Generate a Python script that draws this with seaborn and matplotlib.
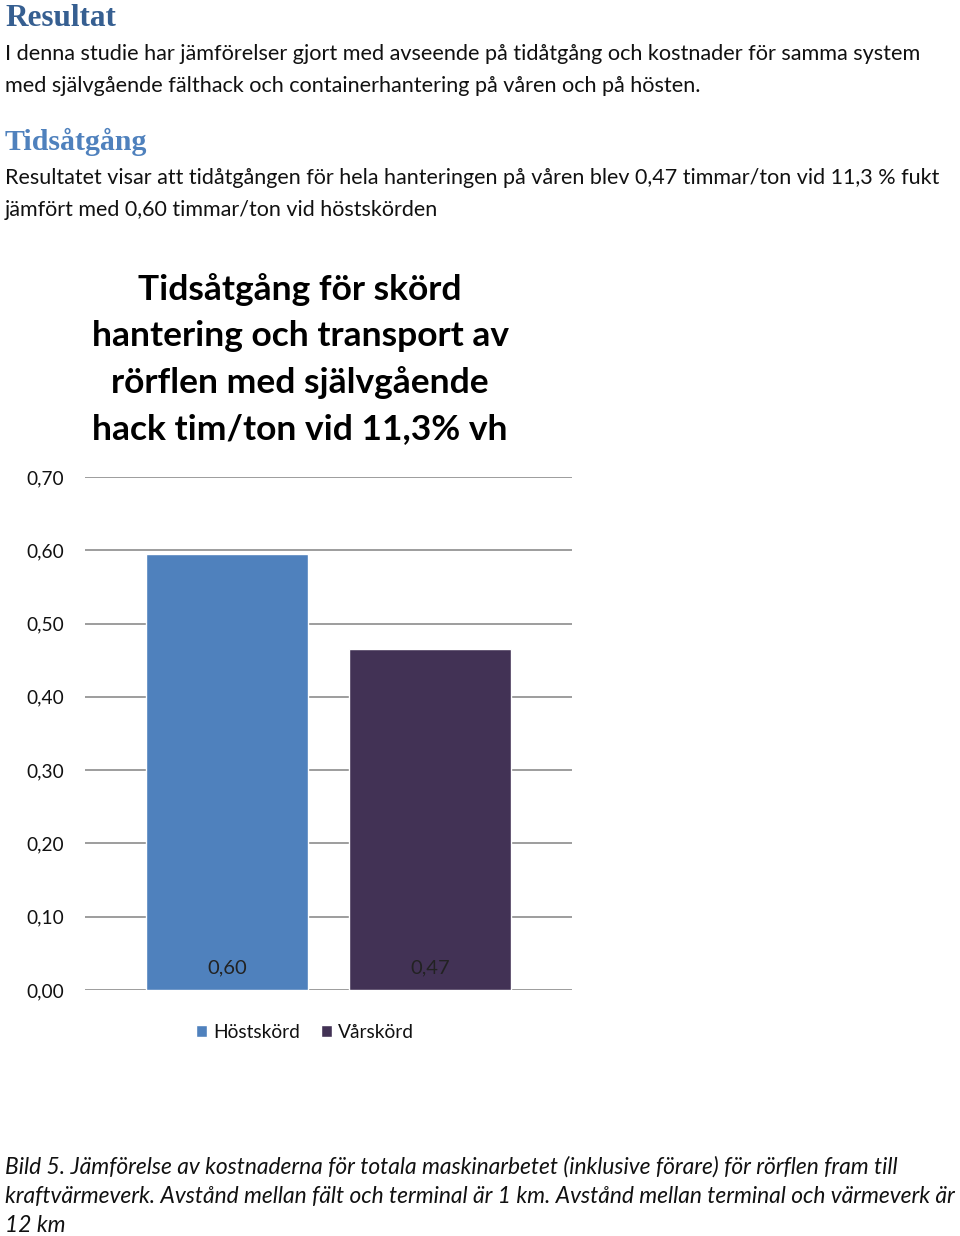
import matplotlib
matplotlib.use('Agg')
import matplotlib.pyplot as plt
import seaborn as sns

# chart data
categories = ['Höstskörd', 'Vårskörd']
values = [0.595, 0.465]
value_labels = ['0,60', '0,47']
bar_colors = ['#4F81BD', '#423255']
y_ticks = [0.0, 0.1, 0.2, 0.3, 0.4, 0.5, 0.6, 0.7]
y_tick_labels = ['0,00', '0,10', '0,20', '0,30', '0,40', '0,50', '0,60', '0,70']

chart_title = ['Tidsåtgång för skörd',
               'hantering och transport av',
               'rörflen med självgående',
               'hack tim/ton vid 11,3% vh']

# page text
heading1 = 'Resultat'
para1 = ['I denna studie har jämförelser gjort med avseende på tidåtgång och kostnader för samma system',
         'med självgående fälthack och containerhantering på våren och på hösten.']
heading2 = 'Tidsåtgång'
para2 = ['Resultatet visar att tidåtgången för hela hanteringen på våren blev 0,47 timmar/ton vid 11,3 % fukt',
         'jämfört med 0,60 timmar/ton vid höstskörden']
caption = ['Bild 5. Jämförelse av kostnaderna för totala maskinarbetet (inklusive förare) för rörflen fram till',
           'kraftvärmeverk. Avstånd mellan fält och terminal är 1 km. Avstånd mellan terminal och värmeverk är',
           '12 km']

sns.set_theme(style='white')
plt.rcParams['font.family'] = ['Lato', 'DejaVu Sans']

W, H = 960, 1236
fig = plt.figure(figsize=(W / 100, H / 100), dpi=100)
fig.patch.set_facecolor('white')


def fy(px):
    return 1 - px / H


# headings and paragraphs
fig.text(5 / W, fy(18), heading1, family='Liberation Serif', fontweight='bold',
         fontsize=22.5, color='#365F91', va='center', ha='left')
for i, line in enumerate(para1):
    fig.text(5 / W, fy(54 + 32.5 * i), line, fontsize=15.55, color='#111111', va='center', ha='left')
fig.text(5 / W, fy(142), heading2, family='Liberation Serif', fontweight='bold',
         fontsize=21.5, color='#4F81BD', va='center', ha='left')
for i, line in enumerate(para2):
    fig.text(5 / W, fy(178 + 32.5 * i), line, fontsize=15.5, color='#111111', va='center', ha='left')
for i, line in enumerate(caption):
    fig.text(5 / W, fy(1167 + 29 * i), line, fontsize=16.4, style='italic', color='#111111',
             va='center', ha='left')

# chart title
for i, line in enumerate(chart_title):
    fig.text(300 / W, fy(290 + 46.3 * i), line, fontsize=25.5, fontweight='bold', color='black',
             va='center', ha='center')

# axes
ax = fig.add_axes([85 / W, 1 - 990 / H, (572 - 85) / W, (990 - 477) / H])
sns.barplot(x=categories, y=values, hue=categories, palette=bar_colors, width=0.8,
            saturation=1, ax=ax, legend=True)
handles, labels = ax.get_legend_handles_labels()
if ax.get_legend() is not None:
    ax.get_legend().remove()

ax.set_xlim(-0.7, 1.7)
ax.set_ylim(0, 0.7)
ax.set_yticks(y_ticks)
ax.set_yticklabels(y_tick_labels)
ax.tick_params(axis='y', length=0, pad=15, labelsize=13.8, labelcolor='#111111')
ax.set_xticks([])
ax.set_xlabel('')
ax.set_ylabel('')
for s in ax.spines.values():
    s.set_visible(False)
ax.yaxis.grid(True, color='#8c8c8c', linewidth=1.2)
ax.set_axisbelow(True)
ax.set_facecolor('white')

for patch, lab in zip(ax.patches, value_labels):
    cx = patch.get_x() + patch.get_width() / 2
    ax.annotate(lab, xy=(cx, 0), xytext=(0, 22), textcoords='offset pixels',
                ha='center', va='center', fontsize=14.5, color='#222222')

fig.legend(handles, labels, loc='center', bbox_to_anchor=(305 / W, fy(1032)),
           ncol=2, frameon=False, fontsize=13.8, handlelength=0.6, handleheight=0.6,
           handletextpad=0.3, columnspacing=1.1, labelcolor='#111111')

fig.savefig('out.png', dpi=100, facecolor='white')
